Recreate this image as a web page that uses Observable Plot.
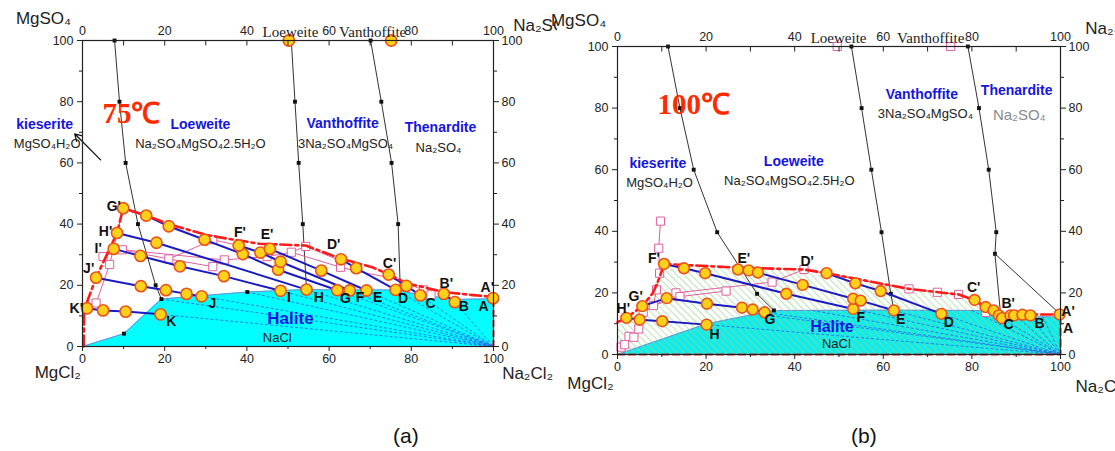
<!DOCTYPE html>
<html><head><meta charset="utf-8">
<script src="https://cdn.jsdelivr.net/npm/d3@7"></script>
<script src="https://cdn.jsdelivr.net/npm/@observablehq/plot@0.6"></script>
<style>
body{margin:0;background:#fff;width:1115px;height:451px;position:relative;overflow:hidden;font-family:"Liberation Sans",Arial,sans-serif;}
#pa{position:absolute;left:0;top:0;}
#pb{position:absolute;left:557px;top:0;}
.cap{position:absolute;top:424px;font-size:21px;color:#111;}
</style></head><body>
<div id="pa"></div><div id="pb"></div>
<div class="cap" style="left:393px">(a)</div>
<div class="cap" style="left:851px">(b)</div>
<script>
// ---------- shared tick values ----------
const ticksMajor = [0, 20, 40, 60, 80, 100];
const ticksMinor = [10, 30, 50, 70, 90];

// ---------- panel (a) 75 °C ----------
const aBoundary1 = [[7.8,100],[9.0,80],[10.5,60],[13.5,40],[17.8,20],[19.2,15.5]];
const aBoundary2 = [[50.8,100],[51.7,80],[52.6,60],[53.6,40],[54.5,18.6]];
const aBoundary3 = [[70.1,100],[72.7,80],[75.2,60],[76.8,40],[77.3,19.5]];
const aHaliteSquares = [[10.1,4.2],[40.1,17.8]];
const aHaliteTop = [[0,0],[10.1,4.2],[19.2,15.5],[29,16.6],[40.1,17.8],[48.2,18.3],[54.5,18.6],[62,18.5],[69.1,18.5],[76.2,18.5],[82.2,16.9],[90.6,15.4],[100,15.6]];
const aFan = [[19.0,10.5],[19.2,15.5],[29.0,16.4],[40.1,17.8],[48.2,18.2],[54.5,18.6],[62.0,18.4],[65.0,18.3],[69.1,18.3],[76.2,18.5],[82.2,16.7],[90.6,14.5]];
const aTieG = [[9.9,45.2],[15.5,42.8],[21.0,39.3],[29.7,34.9],[39.0,30.2],[47.6,25.1],[62.0,18.4]];
const aTieH = [[8.4,37.1],[18.0,33.9],[54.5,18.6]];
const aTieI = [[7.6,31.9],[14.1,29.6],[23.7,26.2],[34.4,23.0],[48.2,18.2]];
const aTieJ = [[3.3,22.5],[14.2,19.7],[20.3,18.4],[25.3,17.2],[29.0,16.4]];
const aTieK = [[1.1,12.5],[5.0,11.8],[10.5,11.4],[19.0,10.5]];
const aTieF = [[38.0,33.0],[43.3,30.7],[48.2,27.7],[65.0,18.3]];
const aTieE = [[45.6,31.9],[58.1,24.8],[69.1,18.3]];
const aTieD = [[62.9,28.5],[66.6,25.6],[76.2,18.5]];
const aTieC = [[74.5,23.5],[78.8,19.8],[82.2,16.7]];
const aTieB = [[87.9,17.2],[90.6,14.5]];
const aExtraDots = [[99.9,15.8],[50.2,100],[75.1,100]];
const aSaturation = [[0.3,0],[0.4,12],[3.3,22.5],[8.4,37.1],[9.9,45.2],[15.5,42.8],[21,40],[30,36.5],[35,35.3],[43,33.6],[54.3,33.0],[62.9,28.7],[70.5,25.9],[74.5,23.6],[78.8,20.7],[87.9,17.8],[95,16.8],[100,16.2]];
const aEdge = [[100,0],[100,16]];
const aPink1 = [[3.3,14.2],[6.6,26.8],[9.9,45.2]];
const aPink2 = [[5.0,29.4],[9.7,31.6],[21.0,28.6],[31.7,34.9],[38.0,33.0]];
const aPink3 = [[9.7,31.6],[34.5,28.3],[44.9,29.4],[50.8,30.8],[54.3,32.7]];
const aPink4 = [[21.0,28.6],[31.7,26.1],[34.5,28.3]];
const aPink5 = [[50.8,30.8],[62.8,25.9],[66.6,24.6],[74.5,22.6],[83.0,18.5],[84.8,16.9]];
const aPink6 = [[54.3,32.7],[62.8,28.0]];
const aPinkSquares = [[3.3,14.2],[6.6,26.8],[5.0,29.4],[9.7,31.6],[21.0,28.6],[31.7,34.9],[31.7,26.1],[34.5,28.3],[44.9,29.4],[50.8,30.8],[54.3,32.7],[62.8,25.9],[83.0,18.5],[84.8,16.9]];
const aPointLabels = [["G'",7.6,45.8],["H'",5.6,37.7],["I'",3.8,31.9],["J'",1.5,25.4],["K'",-1.5,12.3],["K",21.6,8.2],["J",31.6,14.0],["I",50.2,15.9],["H",57.5,16.1],["G",64.0,15.6],["F",67.5,15.9],["E",71.8,15.9],["D",78.0,15.6],["C",84.7,14.0],["B",92.8,13.1],["A",97.6,13.1],["F'",38.3,37.2],["E'",44.9,36.5],["D'",61.1,33.3],["C'",74.7,27.0],["B'",88.5,20.7],["A'",98.5,19.2]];
const aPhaseNames = [["kieserite",-9.2,72.5],["Loeweite",28.7,72.5],["Vanthoffite",63.3,72.9],["Thenardite",87.1,71.6]];
const aHaliteName = [["Halite",50.6,9.2]];
const aFormulas = [["MgSO₄H₂O",-8.6,66.3],["Na₂SO₄MgSO₄2.5H₂O",28.7,66.3],["3Na₂SO₄MgSO₄",64.0,66.3],["Na₂SO₄",86.6,65.0],["NaCl",47.4,2.9]];
const aTemperature = [["75℃",11.9,76.1]];
const aTopNames = [["Loeweite",50.6,102.6],["Vanthoffite",70.6,102.6]];
const aAxisTitles = [["MgSO₄",-9.5,107.2],["MgCl₂",-6.0,-8.5],["Na₂Cl₂",108.3,-8.8]];
const aAxisTitlesStart = [["Na₂SO₄",104.8,104.9]];
const aArrow = [[4.4,61.0,-1.9,69.5]];

// ---------- panel (b) 100 °C ----------
const bBoundary1 = [[11.4,100],[14.1,80],[17.2,60],[22.5,39.7],[31.5,19.7],[35.3,14.3]];
const bBoundary2 = [[52.8,100],[55.1,80],[57.3,60],[59.6,39.7],[61.7,19.7],[62.4,14.3]];
const bBoundary3 = [[79.1,100],[81.6,80],[83.8,60],[85.5,39.7],[85.2,32.7],[86.5,12.7]];
const bBoundary4 = [[85.2,32.7],[100,13.0]];
const bHaliteTop = [[0,0],[20.2,10.0],[31.5,13.2],[35.3,14.3],[60,14.4],[84.5,14.3],[87,12.3],[100,12.2]];
const bFan = [[20.1,9.7],[31.5,13.2],[33.2,13.7],[44,14.3],[53.2,14.8],[62.4,14.3],[73.1,13.2],[80,14.3],[86.8,11.8],[90,12.3],[93.2,12.4],[96,12.3]];
const bTieF = [[10.5,29.4],[15.0,28.0],[19.8,26.4],[38.1,19.7],[53.2,14.8]];
const bTieE = [[27.2,27.6],[29.6,27.3],[31.7,26.6],[41.8,22.6],[53.2,18.1],[54.9,17.5],[62.4,14.3]];
const bTieD = [[47.2,26.4],[53.7,23.1],[59.4,20.6],[73.1,13.2]];
const bTieG = [[5.6,15.7],[11.1,18.3],[20.2,16.5],[28.1,15.2],[30.5,14.6],[33.2,13.7]];
const bTieH = [[2.0,11.9],[5.0,11.3],[10.1,10.8],[20.1,9.7]];
const bTieC = [[80.6,17.7],[83.1,15.4],[84.9,14.3],[86.1,12.7],[86.8,11.8]];
const bExtraDots = [[88.7,12.7],[89.5,12.7],[91.4,12.9],[93.2,12.7],[99.8,13.0]];
const bSaturation = [[0,10.5],[2.0,11.9],[5.6,15.7],[8.0,20.0],[9.5,25.0],[10.5,29.4],[27.2,28.2],[42.1,27.6],[47.2,26.4],[65.8,21.3],[77.0,19.5],[80.6,17.7],[83.1,15.4],[86.1,12.9],[93,13.0],[100,13.0]];
const bEdge = [[0,0],[100,0],[100,13]];
const bPink1 = [[0.8,2.4],[1.6,3.2],[2.6,5.9],[3.7,5.6],[4.8,8.3],[5.8,13.7],[8.1,15.9],[8.8,21.0],[9.5,26.4],[9.3,34.5],[9.7,43.3]];
const bPink2 = [[5.8,13.7],[13.2,20.0],[34.9,23.5],[42.1,27.6]];
const bPink3 = [[8.1,15.9],[14.1,18.8],[24.5,20.6]];
const bPink4 = [[42.1,27.6],[65.8,21.3],[72.2,20.2],[77.0,19.5],[80.6,17.7],[83.1,13.7]];
const bPinkSquares = [[0.8,2.4],[1.6,3.2],[2.6,5.9],[3.7,5.6],[4.8,8.3],[5.8,13.7],[8.1,15.9],[8.8,21.0],[9.5,26.4],[9.3,34.5],[9.7,43.3],[13.2,20.0],[14.1,18.8],[24.5,20.6],[34.9,23.5],[42.1,27.6],[65.8,21.3],[72.2,20.2],[77.0,19.5],[83.1,13.7],[49.6,100],[75.2,100]];
const bPointLabels = [["F'",8.2,31.3],["E'",28.5,31.1],["D'",42.8,30.3],["C'",80.4,21.9],["B'",88.2,16.5],["A'",101.7,14.0],["A",101.7,8.4],["B",95.3,10.2],["C",88.3,9.6],["D",74.8,10.5],["E",63.9,11.4],["F",54.9,11.9],["G",34.4,11.3],["H",21.9,6.4],["G'",4.1,18.8],["H'",1.3,14.8]];
const bPhaseNames = [["kieserite",9.1,62.0],["Loeweite",39.8,62.7],["Vanthoffite",68.7,84.4],["Thenardite",90.1,85.7]];
const bHaliteName = [["Halite",48.4,9.1]];
const bFormulas = [["MgSO₄H₂O",9.5,55.8],["Na₂SO₄MgSO₄2.5H₂O",38.8,56.5],["3Na₂SO₄MgSO₄",69.5,78.2],["NaCl",49.4,3.6]];
const bFormulaGray = [["Na₂SO₄",90.7,77.6]];
const bTemperature = [["100℃",17.2,81.2]];
const bTopNames = [["Loeweite",49.9,102.6],["Vanthoffite",70.7,102.6]];
const bAxisTitles = [["MgSO₄",-8.8,108.4],["MgCl₂",-6.1,-9.4]];
const bAxisTitlesStart = [["Na₂SO₄",105.6,105.8],["Na₂Cl₂",103.4,-10.4]];

// ---------- helpers ----------
const xy = arr => arr.map(d => ({x: d[0], y: d[1]}));
const lbl = arr => arr.map(d => ({t: d[0], x: d[1], y: d[2]}));
const BLUE_LINE = "#1b1bc2", RED = "#ff1a1a", PINK = "#e0609f", DOT_FILL = "#ffd11a", DOT_STROKE = "#e8531c", LABEL_BLUE = "#1515df";
const FONT = "'Liberation Sans', Arial, sans-serif";
const SERIF = "'Liberation Serif', 'Times New Roman', serif";

function axes() {
  return [
    Plot.axisX(ticksMajor, {anchor: "bottom", tickSize: 5, tickPadding: 3, label: null, fontSize: 12.5}),
    Plot.axisX(ticksMinor, {anchor: "bottom", tickSize: 3, tickFormat: () => "", label: null}),
    Plot.axisX(ticksMajor, {anchor: "top", tickSize: 0, tickPadding: 6, label: null, fontSize: 12.5}),
    Plot.ruleX(ticksMajor.concat(ticksMinor), {y1: 100, y2: 98.2, stroke: "#222"}),
    Plot.axisY(ticksMajor, {anchor: "left", tickSize: 5, tickPadding: 4, label: null, fontSize: 12.5}),
    Plot.axisY(ticksMinor, {anchor: "left", tickSize: 3, tickFormat: () => "", label: null}),
    Plot.axisY(ticksMajor, {anchor: "right", tickSize: 5, tickPadding: 3, label: null, fontSize: 12.5}),
    Plot.axisY(ticksMinor, {anchor: "right", tickSize: 3, tickFormat: () => "", label: null}),
    Plot.frame({stroke: "#222", strokeWidth: 1.2})
  ];
}
function texts(o, haliteSize) {
  return [
    Plot.text(lbl(o.topNames), {x: "x", y: "y", text: "t", fontFamily: SERIF, fontSize: 15, fill: "#222"}),
    Plot.text(lbl(o.axisTitles), {x: "x", y: "y", text: "t", fontSize: 17, fill: "#222"}),
    Plot.text(lbl(o.axisTitlesStart), {x: "x", y: "y", text: "t", textAnchor: "start", fontSize: 17, fill: "#222"}),
    Plot.text(lbl(o.phaseNames), {x: "x", y: "y", text: "t", fontWeight: "bold", fontSize: 14, fill: LABEL_BLUE}),
    Plot.text(lbl(o.haliteName), {x: "x", y: "y", text: "t", fontWeight: "bold", fontSize: haliteSize, fill: LABEL_BLUE}),
    Plot.text(lbl(o.formulas), {x: "x", y: "y", text: "t", fontSize: 13, fill: "#222"}),
    Plot.text(lbl(o.temperature), {x: "x", y: "y", text: "t", fontFamily: SERIF, fontWeight: "bold", fontSize: 29, fill: "#ff2a00"}),
    Plot.text(lbl(o.pointLabels), {x: "x", y: "y", text: "t", fontWeight: "bold", fontSize: 14, fill: "#111"})
  ];
}
function boundary(arr) {
  return [
    Plot.line(xy(arr), {x: "x", y: "y", stroke: "#333", strokeWidth: 1}),
    Plot.dot(xy(arr), {x: "x", y: "y", symbol: "square", r: 2.2, fill: "#111"})
  ];
}
const ties = list => list.map(t => Plot.line(xy(t), {x: "x", y: "y", stroke: BLUE_LINE, strokeWidth: 2}));
const pinks = list => list.map(t => Plot.line(xy(t), {x: "x", y: "y", stroke: PINK, strokeWidth: 1}));

const baseOpts = {
  x: {domain: [0, 100], label: null},
  y: {domain: [0, 100], label: null},
  style: {fontFamily: FONT, fontSize: "12px", color: "#222", background: "white", overflow: "visible"}
};

// ---------- panel (a) ----------
const aTies = [aTieG, aTieH, aTieI, aTieJ, aTieK, aTieF, aTieE, aTieD, aTieC, aTieB];
const chartA = Plot.plot({
  ...baseOpts,
  width: 557, height: 400, marginLeft: 82, marginRight: 64, marginTop: 40, marginBottom: 54,
  marks: [
    Plot.areaY(xy(aHaliteTop), {x: "x", y: "y", fill: "#00ffff"}),
    Plot.line(xy(aHaliteTop), {x: "x", y: "y", stroke: "#7d86d8", strokeWidth: 1}),
    Plot.link(aFan, {x1: d => d[0], y1: d => d[1], x2: 100, y2: 0, stroke: "#2a62e6", strokeWidth: 0.8, strokeDasharray: "3,2"}),
    Plot.line(xy(aEdge), {x: "x", y: "y", stroke: "#e03030", strokeWidth: 2, strokeDasharray: "6,4"}),
    ...boundary(aBoundary1), ...boundary(aBoundary2), ...boundary(aBoundary3),
    Plot.dot(xy(aHaliteSquares), {x: "x", y: "y", symbol: "square", r: 2.2, fill: "#111"}),
    ...pinks([aPink1, aPink2, aPink3, aPink4, aPink5, aPink6]),
    Plot.dot(xy(aPinkSquares), {x: "x", y: "y", symbol: "square", r: 4.6, fill: "white", stroke: PINK, strokeWidth: 1}),
    ...ties(aTies),
    Plot.line(xy(aSaturation), {x: "x", y: "y", stroke: RED, strokeWidth: 2.6, strokeDasharray: "11,4,3,4"}),
    Plot.arrow(aArrow, {x1: d => d[0], y1: d => d[1], x2: d => d[2], y2: d => d[3], stroke: "#111", strokeWidth: 1.3, headLength: 9}),
    Plot.dot(xy(aTies.flat().concat(aExtraDots)), {x: "x", y: "y", r: 5.6, fill: DOT_FILL, stroke: DOT_STROKE, strokeWidth: 1.6}),
    ...axes(),
    ...texts({topNames: aTopNames, axisTitles: aAxisTitles, axisTitlesStart: aAxisTitlesStart, phaseNames: aPhaseNames, haliteName: aHaliteName, formulas: aFormulas, temperature: aTemperature, pointLabels: aPointLabels}, 17)
  ]
});
document.getElementById("pa").appendChild(chartA);

// ---------- panel (b) ----------
const bTies = [bTieF, bTieE, bTieD, bTieG, bTieH, bTieC];
const chartB = Plot.plot({
  ...baseOpts,
  width: 558, height: 400, marginLeft: 60, marginRight: 55, marginTop: 46, marginBottom: 46,
  marks: [
    Plot.areaY(xy(bHaliteTop), {x: "x", y: "y", fill: "#10ecec"}),
    Plot.line(xy(bHaliteTop), {x: "x", y: "y", stroke: "#7d86d8", strokeWidth: 1}),
    Plot.areaY(xy([[0, 0]].concat(bSaturation)), {x: "x", y: "y", fill: "url(#hatchB)"}),
    Plot.link(bFan, {x1: d => d[0], y1: d => d[1], x2: 100, y2: 0, stroke: "#2a62e6", strokeWidth: 0.8, strokeDasharray: "3,2"}),
    Plot.line(xy(bEdge), {x: "x", y: "y", stroke: "#c83030", strokeWidth: 2, strokeDasharray: "7,4"}),
    ...boundary(bBoundary1), ...boundary(bBoundary2), ...boundary(bBoundary3),
    Plot.line(xy(bBoundary4), {x: "x", y: "y", stroke: "#333", strokeWidth: 1}),
    ...pinks([bPink1, bPink2, bPink3, bPink4]),
    Plot.dot(xy(bPinkSquares), {x: "x", y: "y", symbol: "square", r: 4.6, fill: "white", stroke: PINK, strokeWidth: 1}),
    ...ties(bTies),
    Plot.line(xy(bSaturation), {x: "x", y: "y", stroke: RED, strokeWidth: 2.6, strokeDasharray: "11,4,3,4"}),
    Plot.dot(xy(bTies.flat().concat(bExtraDots)), {x: "x", y: "y", r: 5.4, fill: DOT_FILL, stroke: DOT_STROKE, strokeWidth: 1.6}),
    ...axes(),
    ...texts({topNames: bTopNames, axisTitles: bAxisTitles, axisTitlesStart: bAxisTitlesStart, phaseNames: bPhaseNames, haliteName: bHaliteName, formulas: bFormulas, temperature: bTemperature, pointLabels: bPointLabels}, 16),
    Plot.text(lbl(bFormulaGray), {x: "x", y: "y", text: "t", fontSize: 15, fill: "#8a8a8a"})
  ]
});
const ns = "http://www.w3.org/2000/svg";
const defs = document.createElementNS(ns, "defs");
const pat = document.createElementNS(ns, "pattern");
pat.setAttribute("id", "hatchB");
pat.setAttribute("patternUnits", "userSpaceOnUse");
pat.setAttribute("width", "5");
pat.setAttribute("height", "5");
pat.setAttribute("patternTransform", "rotate(-45)");
const ln = document.createElementNS(ns, "line");
ln.setAttribute("x1", "0"); ln.setAttribute("y1", "0"); ln.setAttribute("x2", "0"); ln.setAttribute("y2", "5");
ln.setAttribute("stroke", "#96d68a"); ln.setAttribute("stroke-width", "1.3");
pat.appendChild(ln); defs.appendChild(pat);
chartB.insertBefore(defs, chartB.firstChild);
document.getElementById("pb").appendChild(chartB);
</script></body></html>
